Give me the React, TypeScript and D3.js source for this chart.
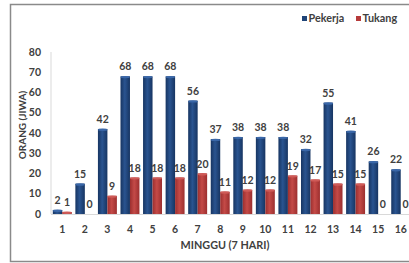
import React from 'react';
import * as d3 from 'd3';

const weeks = ['1', '2', '3', '4', '5', '6', '7', '8', '9', '10', '11', '12', '13', '14', '15', '16'];
const pekerja = [2, 15, 42, 68, 68, 68, 56, 37, 38, 38, 38, 32, 55, 41, 26, 22];
const tukang = [1, 0, 9, 18, 18, 18, 20, 11, 12, 12, 19, 17, 15, 15, 0, 0];
const seriesNames = ['Pekerja', 'Tukang'];
const yTicks = [0, 10, 20, 30, 40, 50, 60, 70, 80];

const W = 409;
const H = 263;
const font = 'Lato, "Open Sans", sans-serif';
const textColor = '#404040';

const App = () => {
  const x0 = d3.scaleBand().domain(weeks).range([51, 412]).paddingInner(0.16).paddingOuter(0.08);
  const x1 = d3.scaleBand().domain(seriesNames).range([0, x0.bandwidth()]);
  const y = d3.scaleLinear().domain([0, 80]).range([214, 52]);

  const rows = weeks.map((w, i) => ({ week: w, values: [pekerja[i], tukang[i]] }));
  const fills = ['url(#gBlue)', 'url(#gRed)'];
  const caps = ['#3a67a8', '#cf5b58'];
  const legendColors = ['#1f4478', '#b63a3a'];

  return (
    <div style={{ position: 'fixed', left: 0, top: 0 }}>
      <svg width={W} height={H} style={{ display: 'block', background: '#fff' }}>
        <defs>
          <linearGradient id="gBlue" x1="0" x2="1" y1="0" y2="0">
            <stop offset="0" stopColor="#173562" />
            <stop offset="0.45" stopColor="#2a5490" />
            <stop offset="1" stopColor="#173562" />
          </linearGradient>
          <linearGradient id="gRed" x1="0" x2="1" y1="0" y2="0">
            <stop offset="0" stopColor="#9c2f2f" />
            <stop offset="0.45" stopColor="#c44a47" />
            <stop offset="1" stopColor="#9c2f2f" />
          </linearGradient>
        </defs>

        {/* frame */}
        <rect x={10.5} y={4.5} width={420} height={257} fill="none" stroke="#8a8a8a" strokeWidth={1.5} />

        {/* axes lines */}
        <line x1={51} x2={51} y1={y(80)} y2={y(0)} stroke="#d9d9d9" />
        <line x1={51} x2={412} y1={y(0) + 0.5} y2={y(0) + 0.5} stroke="#d9d9d9" />

        {/* y ticks */}
        {yTicks.map(t => (
          <text key={t} x={41} y={y(t)} dy="0.35em" textAnchor="end" fontFamily={font}
            fontWeight="bold" fontSize={10.5} fill={textColor}>{t}</text>
        ))}

        {/* bars */}
        {rows.map(r => (
          <g key={r.week} transform={`translate(${x0(r.week)},0)`}>
            {r.values.map((v, j) => {
              const bx = x1(seriesNames[j])!;
              const bw = x1.bandwidth();
              const top = y(v);
              const h = y(0) - top;
              return (
                <g key={j}>
                  {h > 0 && <rect x={bx} y={top} width={bw} height={h} fill={fills[j]} />}
                  {h > 1.5 && <ellipse cx={bx + bw / 2} cy={top + 0.8} rx={bw / 2} ry={1.2} fill={caps[j]} />}
                  <text x={bx + bw / 2} y={top - 6} textAnchor="middle" fontFamily={font}
                    fontWeight="bold" fontSize={10.5} fill={textColor}>{v}</text>
                </g>
              );
            })}
          </g>
        ))}

        {/* x ticks */}
        {weeks.map(w => (
          <text key={w} x={x0(w)! + x0.bandwidth() / 2} y={229} dy="0.35em" textAnchor="middle"
            fontFamily={font} fontWeight="bold" fontSize={10.5} fill={textColor}>{w}</text>
        ))}

        {/* axis titles */}
        <text x={225} y={245} dy="0.35em" textAnchor="middle" fontFamily={font} fontWeight="bold"
          fontSize={10.8} fill={textColor}>MINGGU (7 HARI)</text>
        <text transform="translate(22,125) rotate(-90)" dy="0.35em" textAnchor="middle" fontFamily={font}
          fontWeight="bold" fontSize={10} fill={textColor}>ORANG (JIWA)</text>

        {/* legend */}
        {seriesNames.map((s, i) => {
          const lx = [302, 356][i];
          return (
            <g key={s}>
              <rect x={lx} y={16} width={5} height={5} fill={legendColors[i]} />
              <text x={lx + 6.5} y={18.5} dy="0.35em" fontFamily={font} fontWeight="bold" fontSize={10.8}
                fill={textColor}>{s}</text>
            </g>
          );
        })}
      </svg>
    </div>
  );
};

export default App;
